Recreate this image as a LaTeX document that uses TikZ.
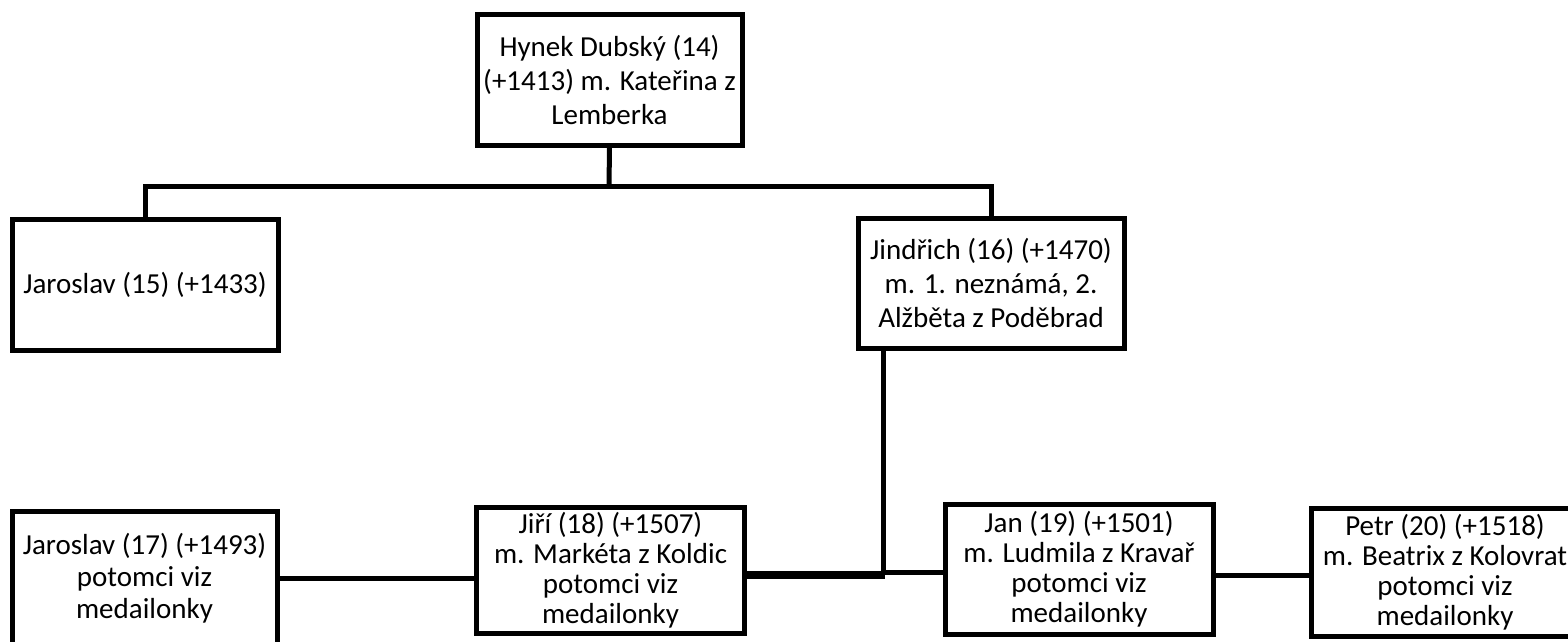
\documentclass[tikz,border=0pt]{standalone}
\usepackage{fontspec}
\setmainfont{Carlito}
\begin{document}
\begin{tikzpicture}[x=1pt,y=-1pt,
  box/.style={draw,line width=5pt,rectangle,inner sep=0pt,align=center,
    font=\fontsize{29}{34}\selectfont},
  tight/.style={font=\fontsize{29}{30}\selectfont},
  mid/.style={font=\fontsize{29}{32}\selectfont},
  link/.style={line width=5pt},
  thick link/.style={line width=8.5pt}]
\useasboundingbox (0,0) rectangle (1568,641);
\clip (0,0) rectangle (1568,641);
\node[box,minimum width=265pt,minimum height=131pt] (top) at (609.5,79.5)
  {Hynek Dubský (14)\\(+1413) m. Kateřina z\\Lemberka};
\node[box,minimum width=266pt,minimum height=131pt] (jar15) at (145,284.5)
  {Jaroslav (15) (+1433)};
\node[box,minimum width=266pt,minimum height=130pt] (jind) at (991,283)
  {Jindřich (16) (+1470)\\m. 1. neznámá, 2.\\Alžběta z Poděbrad};
\node[box,mid,minimum width=265pt,minimum height=134pt] (jar17) at (144.5,578)
  {Jaroslav (17) (+1493)\\potomci viz\\medailonky};
\node[box,tight,minimum width=268pt,minimum height=126pt] (jiri) at (610.5,570)
  {Jiří (18) (+1507)\\m. Markéta z Koldic\\potomci viz\\medailonky};
\node[box,tight,minimum width=268pt,minimum height=130pt] (jan) at (1079,569)
  {Jan (19) (+1501)\\m. Ludmila z Kravař\\potomci viz\\medailonky};
\node[box,tight,minimum width=268pt,minimum height=128pt] (petr) at (1445,572)
  {Petr (20) (+1518)\\m. Beatrix z Kolovrat\\potomci viz\\medailonky};
\coordinate (bus) at (609,186);
\coordinate (junction) at (883,575);
\draw[link] (top.south) -- (bus);
\draw[link] (jar15.north) -- (jar15.north |- bus) -- (jind.north |- bus) -- (jind.north);
\draw[link] (jind.south -| junction) -- ([yshift=4pt]junction);
\draw[link] (jar17.east |- 0,578) -- (jiri.west |- 0,578);
\draw[thick link] (jiri.east |- junction) -- ([xshift=2pt]junction);
\draw[link] (junction |- 0,572) -- (jan.west |- 0,572);
\draw[link] (jan.east |- 0,575) -- (petr.west |- 0,575);
\end{tikzpicture}
\end{document}
